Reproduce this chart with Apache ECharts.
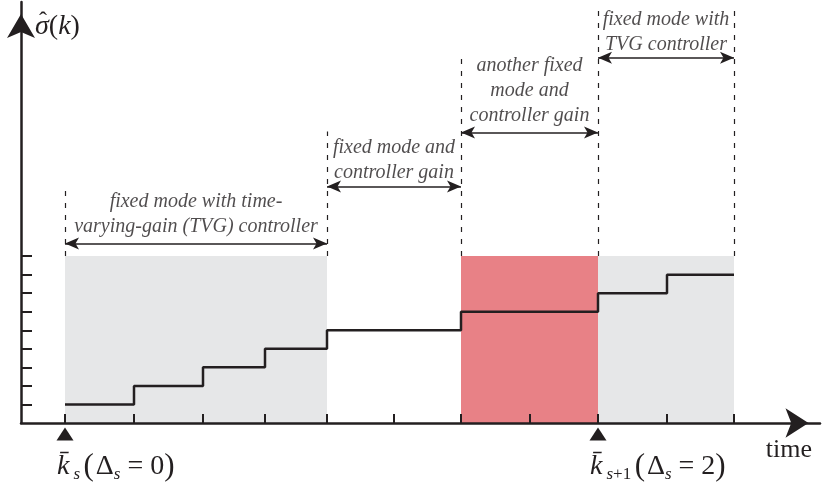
<!DOCTYPE html>
<html><head><meta charset="utf-8">
<script src="https://cdn.jsdelivr.net/npm/echarts@6/dist/echarts.min.js"></script>
<style>html,body{margin:0;padding:0;background:#fff}#c{width:826px;height:483px}</style>
</head><body><div id="c"></div>
<script>
// time axis in arbitrary units, level axis in mode-index units
const tickTimes = [44, 113, 182, 244, 306, 373, 440, 509, 577, 646, 713];
const levelTicks = [1, 2, 3, 4, 5, 6, 7, 8, 9];
const stepStarts = [44, 113, 182, 244, 306, 440, 577, 646];
const stepLevels = [1, 2, 3, 4, 5, 6, 7, 8];
const stepEnd = 713;
const regionStarts = [44, 440, 577];
const regionEnds = [306, 577, 713];
const regionKinds = ['tvg', 'fixed', 'tvg'];
const regionTop = 9;
const boundaryTimes = [44, 306, 440, 577, 713];
const boundaryTops = [12.75, 15.72, 19.70, 22.40, 22.40];
const annotationTexts = [
  'fixed mode with time-\nvarying-gain (TVG) controller',
  'fixed mode and\ncontroller gain',
  'another fixed\nmode and\ncontroller gain',
  'fixed mode with\nTVG controller'
];
const annotationStarts = [44, 306, 440, 577];
const annotationEnds = [306, 440, 577, 713];
const annotationArrowLevels = [9.68, 12.75, 15.66, 19.70];
const annotationTextLevels = [11.27, 14.18, 17.92, 21.08];
const switchTimes = [44, 577];
const switchLabels = [
  '{k|k\u0304}{sub|s}{sp| }{p|(}{d|\u0394}{sub2|s}{eq| = 0}{p|)}',
  '{k|k\u0304}{sub|s}{subr|+1}{sp| }{p|(}{d|\u0394}{sub2|s}{eq| = 2}{p|)}'
];
const yAxisTitle = '{h|\u02c6}\n{s|\u03c3}{p|(}{k|k}{p|)}';
const timeMax = 799;
const levelMax = 22.7;

const INK = '#231f20';
const SERIF = '"Liberation Serif", "DejaVu Serif", serif';
const regionColors = { tvg: '#e6e7e8', fixed: '#e88186' };

const chart = echarts.init(document.getElementById('c'), null, { renderer: 'canvas' });

const stepData = stepStarts.map((t, i) => [t, stepLevels[i]]);
stepData.push([stepEnd, stepLevels[stepLevels.length - 1]]);

const option = {
  animation: false,
  backgroundColor: '#fff',
  grid: { left: 21, right: 6, top: 2, bottom: 60, outerBoundsMode: 'none' },
  xAxis: {
    type: 'value', min: 0, max: timeMax, z: 10,
    name: 'time', nameLocation: 'end', nameGap: -8, nameMoveOverlap: false,
    nameTextStyle: { fontFamily: SERIF, fontSize: 26, color: INK, align: 'right', verticalAlign: 'top', lineHeight: 26, padding: [14, 0, 0, 0] },
    axisLine: { show: true, onZero: false, symbol: ['none', 'arrow'], symbolSize: [22, 23], symbolOffset: [0, -11.5], lineStyle: { color: INK, width: 2.5 } },
    axisTick: { show: true, inside: true, length: 9, customValues: tickTimes, lineStyle: { color: INK, width: 2 } },
    axisLabel: { show: false },
    splitLine: { show: false }
  },
  yAxis: {
    type: 'value', min: 0, max: levelMax, z: 10,
    name: yAxisTitle, nameLocation: 'end', nameGap: -23.5, nameMoveOverlap: false,
    nameTextStyle: {
      align: 'left', verticalAlign: 'middle', padding: [0, 0, 0, 14], color: INK,
      rich: {
        h: { fontFamily: SERIF, fontSize: 24, lineHeight: 2, padding: [0, 0, 0, 4], color: INK },
        s: { fontFamily: SERIF, fontStyle: 'italic', fontSize: 28, lineHeight: 8, color: INK },
        p: { fontFamily: SERIF, fontSize: 28, lineHeight: 8, color: INK },
        k: { fontFamily: SERIF, fontStyle: 'italic', fontSize: 28, lineHeight: 8, color: INK }
      }
    },
    axisLine: { show: true, onZero: false, symbol: ['none', 'arrow'], symbolSize: [21, 24], symbolOffset: [0, -12], lineStyle: { color: INK, width: 2.5 } },
    axisTick: { show: true, inside: true, length: 11, customValues: levelTicks, lineStyle: { color: INK, width: 2 } },
    axisLabel: { show: false },
    splitLine: { show: false }
  },
  series: [
    {
      name: 'regions', type: 'line', data: [], silent: true,
      markArea: {
        silent: true,
        data: regionStarts.map((s, i) => [
          { xAxis: s, yAxis: 0, itemStyle: { color: regionColors[regionKinds[i]] } },
          { xAxis: regionEnds[i], yAxis: regionTop }
        ])
      }
    },
    {
      name: 'boundaries', type: 'line', data: [], silent: true,
      markLine: {
        silent: true, symbol: ['none', 'none'], label: { show: false },
        lineStyle: { color: INK, width: 1.2, type: [5, 7] },
        data: boundaryTimes.map((t, i) => [{ coord: [t, regionTop] }, { coord: [t, boundaryTops[i]] }])
      }
    },
    {
      name: 'spans', type: 'line', data: [], silent: true,
      markLine: {
        silent: true, symbol: ['arrow', 'arrow'], symbolSize: [9, 14], label: { show: false },
        lineStyle: { color: INK, width: 1.5, type: 'solid' },
        data: annotationStarts.map((s, i) => [{ coord: [s, annotationArrowLevels[i]] }, { coord: [annotationEnds[i], annotationArrowLevels[i]] }])
      }
    },
    {
      name: 'mode', type: 'line', step: 'end', data: stepData, symbol: 'none', silent: true, z: 5,
      lineStyle: { color: INK, width: 2.5 }
    },
    {
      name: 'notes', type: 'scatter', symbolSize: 1, silent: true, itemStyle: { color: 'rgba(0,0,0,0)' },
      data: annotationTexts.map((txt, i) => ({ name: txt, value: [(annotationStarts[i] + annotationEnds[i]) / 2, annotationTextLevels[i]] })),
      label: {
        show: true, position: 'inside', formatter: '{b}', align: 'center', verticalAlign: 'middle',
        fontFamily: SERIF, fontStyle: 'italic', fontSize: 20, lineHeight: 25, color: INK
      }
    },
    {
      name: 'switches', type: 'scatter', symbol: 'triangle', symbolSize: [17, 13], symbolOffset: [0, 11], clip: false, silent: true,
      itemStyle: { color: INK, opacity: 1 },
      data: switchTimes.map((t, i) => ({ value: [t, 0], label: { formatter: switchLabels[i] } })),
      label: {
        show: true, position: 'bottom', distance: 9, align: 'left', offset: [-8, 0],
        rich: {
          k: { fontFamily: SERIF, fontStyle: 'italic', fontSize: 28, lineHeight: 34, color: INK },
          sub: { fontFamily: SERIF, fontStyle: 'italic', fontSize: 17, lineHeight: 20, verticalAlign: 'bottom', padding: [0, 0, 0, 4], color: INK },
          sub2: { fontFamily: SERIF, fontStyle: 'italic', fontSize: 17, lineHeight: 20, verticalAlign: 'bottom', color: INK },
          subr: { fontFamily: SERIF, fontSize: 17, lineHeight: 20, verticalAlign: 'bottom', color: INK },
          sp: { fontFamily: SERIF, fontSize: 14, lineHeight: 34, color: INK },
          p: { fontFamily: SERIF, fontSize: 31, lineHeight: 34, color: INK },
          d: { fontFamily: SERIF, fontSize: 28, lineHeight: 34, padding: [0, 0, 0, 2], color: INK },
          eq: { fontFamily: SERIF, fontSize: 28, lineHeight: 34, color: INK }
        }
      }
    }
  ]
};
chart.setOption(option);
</script>
</body></html>
